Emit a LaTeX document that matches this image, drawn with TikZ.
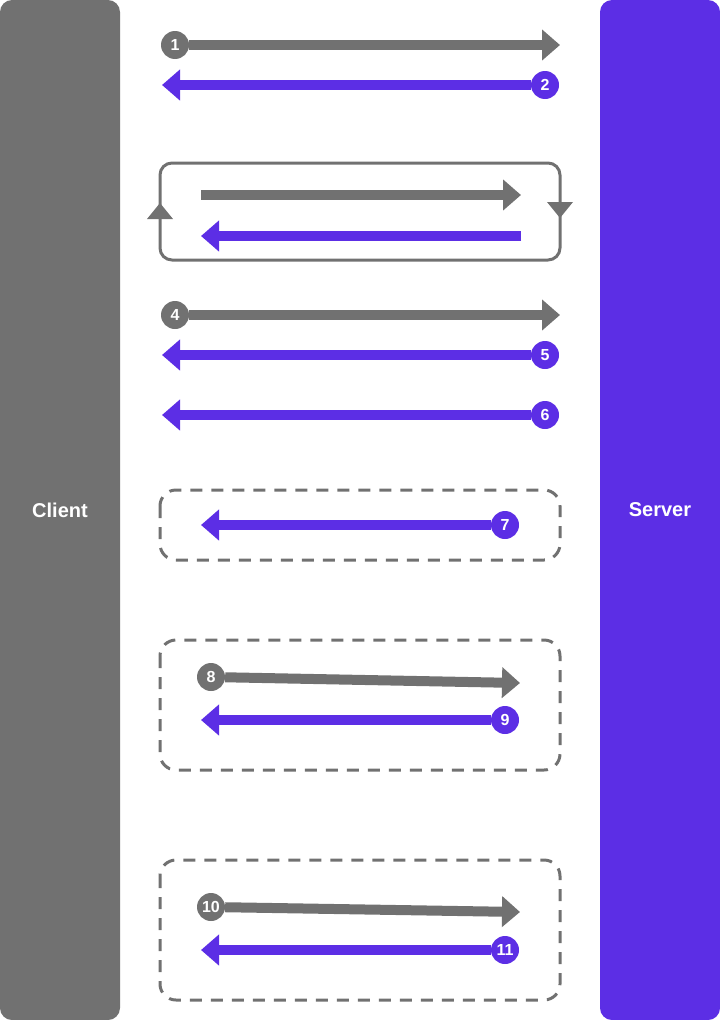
\documentclass[tikz,border=0pt]{standalone}
\usepackage{fontspec}
\setmainfont{Liberation Sans}
\usetikzlibrary{arrows.meta}
\definecolor{cgray}{HTML}{717171}
\definecolor{cpurp}{HTML}{5C2EE5}
\tikzset{
  bar/.style={draw=none, rounded corners=12pt, inner sep=0pt},
  barlabel/.style={text=white, font=\fontsize{20}{23}\selectfont\bfseries},
  num/.style={circle, minimum size=28pt, inner sep=0pt, text=white, font=\fontsize{16}{17}\selectfont\bfseries},
  gnum/.style={num, fill=cgray},
  pnum/.style={num, fill=cpurp},
  harrow/.style={line width=10pt, -{Triangle[length=18pt,width=30pt]}},
  garrow/.style={harrow, draw=cgray},
  parrow/.style={harrow, draw=cpurp},
  loopbox/.style={draw=cgray, line width=3pt, rounded corners=12pt},
  groupbox/.style={draw=cgray, line width=3pt, rounded corners=16pt, dash pattern=on 12pt off 9pt},
  looptip/.style={fill=cgray, draw=none}
}
\begin{document}
\begin{tikzpicture}[x=1pt,y=-1pt]
\useasboundingbox (0,0) rectangle (720,1020);
% bars
\node[bar, fill=cgray, minimum width=120pt, minimum height=1020pt] (client) at (60,510) {};
\node[barlabel] (clientlbl) at (60,510) {Client};
\node[bar, fill=cpurp, minimum width=120pt, minimum height=1020pt] (server) at (660,510) {};
\node[barlabel] (serverlbl) at (660,510) {Server};

% 1 and 2
\node[gnum] (n1) at (175,45) {1};
\coordinate (t1) at (560,45);
\draw[garrow] (n1) -- (t1);
\node[pnum] (n2) at (545,85) {2};
\coordinate (t2) at (162,85);
\draw[parrow] (n2) -- (t2);

% loop
\draw[loopbox] (160,163) rectangle (560,260);
\coordinate (lu) at (160,203);
\coordinate (rd) at (560,218);
\fill[looptip] (lu) -- ++(-13,16) -- ++(26,0) -- cycle;
\fill[looptip] (rd) -- ++(-13,-16) -- ++(26,0) -- cycle;
\coordinate (l1a) at (201,195);
\coordinate (l1b) at (521,195);
\draw[garrow] (l1a) -- (l1b);
\coordinate (l2a) at (521,236);
\coordinate (l2b) at (201,236);
\draw[parrow] (l2a) -- (l2b);

% 4 5 6
\node[gnum] (n4) at (175,315) {4};
\coordinate (t4) at (560,315);
\draw[garrow] (n4) -- (t4);
\node[pnum] (n5) at (545,355) {5};
\coordinate (t5) at (162,355);
\draw[parrow] (n5) -- (t5);
\node[pnum] (n6) at (545,415) {6};
\coordinate (t6) at (162,415);
\draw[parrow] (n6) -- (t6);

% group 7
\draw[groupbox] (160,490) rectangle (560,560);
\node[pnum] (n7) at (505,525) {7};
\coordinate (t7) at (201,525);
\draw[parrow] (n7) -- (t7);

% group 8 9
\draw[groupbox] (160,640) rectangle (560,770);
\node[gnum] (n8) at (211,677) {8};
\coordinate (t8) at (520,683);
\draw[garrow] (n8) -- (t8);
\node[pnum] (n9) at (505,720) {9};
\coordinate (t9) at (201,720);
\draw[parrow] (n9) -- (t9);

% group 10 11
\draw[groupbox] (160,860) rectangle (560,1000);
\node[gnum] (n10) at (211,907) {10};
\coordinate (t10) at (520,912);
\draw[garrow] (n10) -- (t10);
\node[pnum] (n11) at (505,950) {11};
\coordinate (t11) at (201,950);
\draw[parrow] (n11) -- (t11);
\end{tikzpicture}
\end{document}
